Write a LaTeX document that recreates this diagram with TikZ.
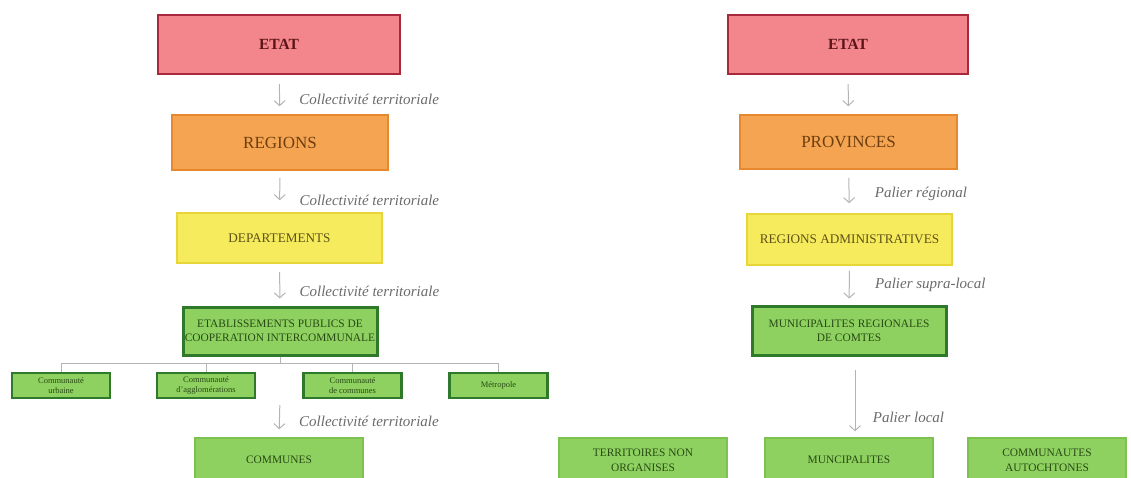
\documentclass[tikz,border=0pt]{standalone}
\usepackage{fontspec}
\setmainfont{Liberation Serif}
\usetikzlibrary{arrows.meta}
\usetikzlibrary{positioning}

\definecolor{etatfill}{HTML}{F2868C}
\definecolor{etatdraw}{HTML}{A8283C}
\definecolor{etattext}{HTML}{5C1418}
\definecolor{regfill}{HTML}{F5A452}
\definecolor{regdraw}{HTML}{E8882E}
\definecolor{regtext}{HTML}{6E3E0E}
\definecolor{depfill}{HTML}{F6EB5C}
\definecolor{depdraw}{HTML}{E6D63A}
\definecolor{deptext}{HTML}{5E5218}
\definecolor{grfill}{HTML}{8ED160}
\definecolor{grdraw}{HTML}{2F7A2A}
\definecolor{grlight}{HTML}{7DC24E}
\definecolor{grtext}{HTML}{284A14}
\definecolor{linkgray}{HTML}{B4B4B4}
\definecolor{lblgray}{HTML}{6A6A6A}

\tikzset{x=1pt, y=-1pt, % one unit = one pixel of the layout
    box/.style={ % common look of every level
    rectangle, inner sep=0pt, align=center},
    etatbox/.style={box, fill=etatfill, draw=etatdraw, line width=2pt,
    text=etattext, font=\fontsize{15.5}{17}\selectfont\bfseries},
    regbox/.style={box, fill=regfill, draw=regdraw, line width=1.5pt,
    text=regtext, font=\fontsize{17}{19}\selectfont},
    depbox/.style={box, fill=depfill, draw=depdraw, line width=1.5pt,
    text=deptext, font=\fontsize{13.2}{15}\selectfont},
    darkbox/.style={box, fill=grfill, draw=grdraw, line width=3pt,
    text=grtext, font=\fontsize{11.4}{14}\selectfont},
    smallbox/.style={box, fill=grfill, draw=grdraw, line width=2.5pt,
    text=grtext, font=\fontsize{8.5}{9.5}\selectfont,
    minimum width=98, minimum height=25},
    lightbox/.style={box, fill=grfill, draw=grlight, line width=1.5pt,
    text=grtext, font=\fontsize{11.4}{15}\selectfont},
    down/.style={ % short grey arrows between levels
    draw=linkgray, line width=1pt,
    -{Straight Barb[length=5pt,width=11pt]}},
    tree/.style={draw=linkgray, line width=1pt},
    lbl/.style={anchor=west, text=lblgray,
    font=\fontsize{15}{17}\selectfont\itshape}}

\begin{document}
\begin{tikzpicture}
        \clip (0,0) rectangle (1131,477);

        % Left column (France)
        \node[etatbox, minimum width=242, minimum height=59] (etatL) at (279,44.5) {ETAT};
        \node[regbox, minimum width=216, minimum height=55] (regL) at (280,142.5) {REGIONS};
        \node[depbox, minimum width=205, minimum height=50] (depL) at (279.5,238) {DEPARTEMENTS};
        \node[darkbox, minimum width=194, minimum height=48] (epci) at (280,331)
            {ETABLISSEMENTS PUBLICS DE\\COOPERATION INTERCOMMUNALE};

        % Groupings under the EPCI
        \foreach \n/\x/\txt in {c1/61/{Communauté\\urbaine},
                c2/206/{Communauté\\d'agglomérations},
                c3/352.5/{Communauté\\de communes},
                c4/498.5/{Métropole}} {
                \node[smallbox] (\n) at (\x,385.5) {\txt};
            }

        \node[lightbox, minimum width=168, minimum height=44] (communes) at (279,460) {COMMUNES};

        % Arrows with their labels
        \draw[down, shorten <=9pt, shorten >=8pt] (etatL) -- (regL)
            node[lbl, pos=0.63, xshift=16pt] {Collectivité territoriale};
        \draw[down, shorten <=7pt, shorten >=12pt] (regL) -- (depL)
            node[lbl, pos=0.72, xshift=16pt] {Collectivité territoriale};
        \draw[down, shorten <=8pt, shorten >=7pt] (depL) -- (epci)
            node[lbl, pos=0.66, xshift=16pt] {Collectivité territoriale};

        % Tree lines to the groupings
        \coordinate (bus) at (280,363);
        \draw[tree] (epci) -- (bus);
        \foreach \n in {c1,c2,c3,c4} {
                \draw[tree] (bus) -| (\n);
            }

        \coordinate (rowL) at (280,398);
        \draw[down, shorten <=7pt, shorten >=8pt] (rowL) -- (communes.north)
            node[lbl, pos=0.6, xshift=16pt] {Collectivité territoriale};

        % Right column (Québec)
        \node[etatbox, minimum width=240, minimum height=59] (etatR) at (848,44.5) {ETAT};
        \node[regbox, minimum width=217, minimum height=54] (prov) at (848.5,142) {PROVINCES};
        \node[depbox, minimum width=205, minimum height=51] (regadm) at (849.5,239.5) {REGIONS ADMINISTRATIVES};
        \node[darkbox, minimum width=194, minimum height=49] (mrc) at (849,330.5)
            {MUNICIPALITES REGIONALES\\DE COMTES};

        \node[lightbox, minimum width=168, minimum height=44] (tno) at (643,460) {TERRITOIRES NON\\ORGANISES};
        \node[lightbox, minimum width=168, minimum height=44] (muni) at (849,460) {MUNCIPALITES};
        \node[lightbox, minimum width=158, minimum height=44] (comaut) at (1047,460) {COMMUNAUTES\\AUTOCHTONES};

        \draw[down, shorten <=9pt, shorten >=8pt] (etatR) -- (prov);
        \draw[down, shorten <=8pt, shorten >=10pt] (prov) -- (regadm)
            node[lbl, pos=0.55, xshift=22pt] {Palier régional};
        \draw[down, shorten <=5pt, shorten >=6pt] (regadm) -- (mrc)
            node[lbl, pos=0.5, xshift=22pt] {Palier supra-local};
        \draw[down, shorten <=13pt, shorten >=6pt] ([xshift=6pt]mrc.south) -- ([xshift=6pt]muni.north)
            node[lbl, pos=0.75, xshift=14pt] {Palier local};

    \end{tikzpicture}
\end{document}
